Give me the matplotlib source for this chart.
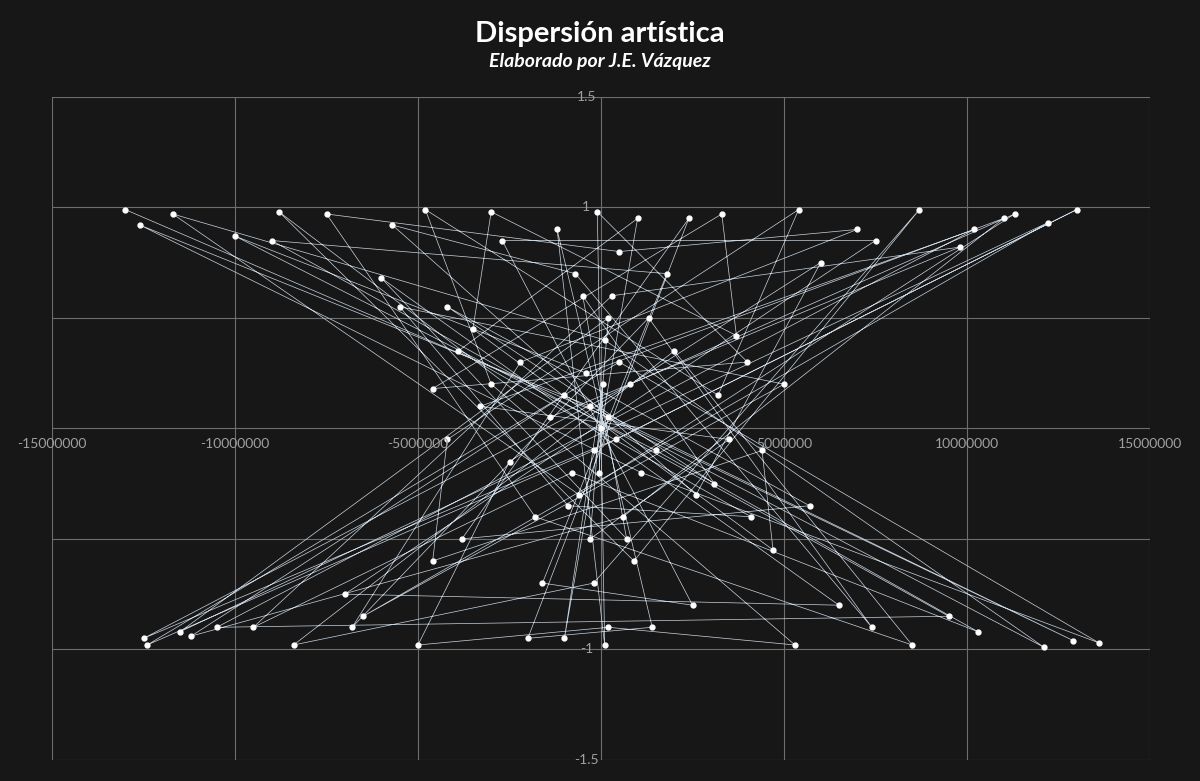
import numpy as np
import matplotlib.pyplot as plt

# points, in drawing order (x in millions)
xm = [-13.0, 0.2, 12.9, -0.3, -12.6, 1.1, 13.6, 0.5, -12.4, -0.2, 13.0, 0.4, -12.5, 0.8, 11.3,
      -0.6, -11.7, 0.1, 12.1, -1.0, -11.2, 0.6, 11.0, -0.4, -10.0, 1.5, 10.3, -0.8, -9.5, 0.3,
      9.8, -1.4, -8.8, 0.9, 8.7, -0.2, -8.4, 2.0, 8.5, -1.8, -7.5, 0.5, 7.0, -2.2, -6.8, 1.3,
      7.4, -0.7, -5.7, 2.6, 6.0, -2.5, -5.0, 0.2, 5.3, -3.0, -4.8, 3.2, 5.4, -4.2, -4.6, 4.4,
      4.7, -3.5, -3.0, 3.7, 3.3, -4.6, 4.0, -0.1, 0.1, -1.2, 1.4, -2.0, 2.4, -3.8, 5.7, -4.2,
      3.1, -0.5, 0.7, -6.0, 6.5, -7.0, 7.5, -2.7, 2.5, -1.6, 1.8, -9.0, 9.5, -10.5, 10.2, -3.3,
      3.5, -0.3, 0.2, -11.5, 12.2, -6.5, 5.0, -5.5, -0.9, 4.1, -3.9, 1.0, -1.0, 0.05, -0.05, 0.0]
y = [0.99, 0.05, -0.96, 0.1, 0.92, -0.2, -0.97, 0.3, -0.98, -0.1, 0.99, -0.05, -0.95, 0.2, 0.97,
     -0.3, 0.97, 0.4, -0.99, 0.15, -0.94, -0.4, 0.95, 0.25, 0.87, -0.1, -0.92, -0.2, -0.9, 0.6,
     0.82, 0.05, 0.98, -0.6, 0.99, -0.7, -0.98, 0.35, -0.98, -0.4, 0.97, 0.8, 0.9, 0.3, -0.9, 0.5,
     -0.9, 0.7, 0.92, -0.3, 0.75, -0.15, -0.98, -0.9, -0.98, 0.2, 0.99, 0.15, 0.99, -0.05, -0.6, -0.1,
     -0.55, 0.45, 0.98, 0.42, 0.97, 0.18, 0.3, 0.98, -0.98, 0.9, -0.9, -0.95, 0.95, -0.5, -0.35, 0.55,
     -0.25, 0.6, -0.5, 0.68, -0.8, -0.75, 0.85, 0.85, -0.8, -0.7, 0.7, 0.85, -0.85, -0.9, 0.9, 0.1,
     -0.05, -0.5, 0.5, -0.92, 0.93, -0.85, 0.2, 0.55, -0.35, -0.4, 0.35, 0.95, -0.95, 0.2, -0.2, 0.0]
x = np.array(xm) * 1e6

bg = '#171717'
fig = plt.figure(figsize=(12, 7.81), dpi=100, facecolor=bg)
ax = fig.add_axes([52 / 1200, 0.027, 1098 / 1200, 0.849], facecolor=bg)
ax.plot(x, y, color='#c8d4e0', linewidth=0.5, marker='o', markersize=3.5,
        markerfacecolor='white', markeredgecolor='white')
ax.set_xlim(-15e6, 15e6)
ax.set_ylim(-1.5, 1.5)
ax.set_xticks(np.arange(-15e6, 15e6 + 1, 5e6))
ax.set_yticks([-1.5, -1, -0.5, 0, 0.5, 1, 1.5])
ax.grid(True, color='#6e6e6e', linewidth=0.8)
ax.set_axisbelow(True)
for s in ['top', 'right', 'bottom', 'left']:
    ax.spines[s].set_visible(False)
ax.tick_params(length=0, labelbottom=False, labelleft=False)
for v in ax.get_xticks():
    ax.text(v, -0.07, '%d' % v, color='#a0a0a0', ha='center', va='center', fontsize=10, family='Lato')
for v in [-1.5, -1, 1, 1.5]:
    ax.text(-0.4e6, v, ('%g' % v), color='#a0a0a0', ha='center', va='center', fontsize=10, family='Lato')

fig.text(0.5, 0.956, 'Dispersión artística', color='white', ha='center', va='center',
         fontsize=21, fontweight='bold', family='Lato')
fig.text(0.5, 0.921, 'Elaborado por J.E. Vázquez', color='white', ha='center', va='center',
         fontsize=14, fontweight='bold', style='italic', family='Lato')
fig.savefig('out.png', facecolor=bg)
